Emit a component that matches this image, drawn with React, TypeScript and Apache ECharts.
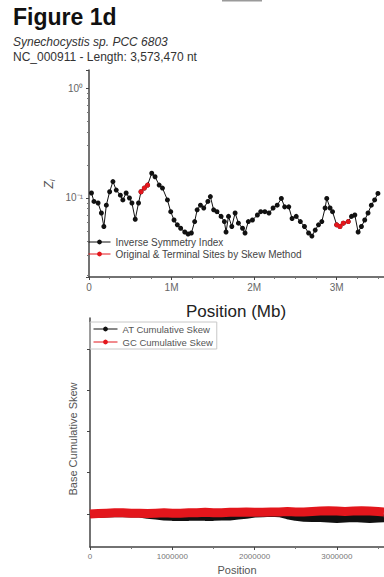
import React, { useEffect, useRef } from "react";
import * as echarts from "echarts";

const FONT = "'Liberation Sans', Arial, Helvetica, sans-serif";

// ---- Top panel: inverse symmetry index (Zi) along the genome (Mb) ----
const ziPosMb = [
  0.03, 0.06, 0.11, 0.15, 0.18, 0.21, 0.25, 0.29, 0.33, 0.38,
  0.41, 0.45, 0.49, 0.52, 0.56, 0.60, 0.63, 0.67, 0.71, 0.76,
  0.80, 0.85, 0.89, 0.95, 0.99, 1.03, 1.07, 1.11, 1.16, 1.20,
  1.24, 1.28, 1.31, 1.35, 1.39, 1.44, 1.47, 1.51, 1.55, 1.60,
  1.64, 1.66, 1.69, 1.73, 1.77, 1.81, 1.86, 1.89, 1.93, 1.98,
  2.04, 2.08, 2.13, 2.18, 2.23, 2.28, 2.33, 2.37, 2.42, 2.46,
  2.51, 2.56, 2.61, 2.66, 2.70, 2.74, 2.78, 2.82, 2.86, 2.88,
  2.92, 2.95, 3.00, 3.04, 3.08, 3.14, 3.18, 3.22, 3.26, 3.30,
  3.34, 3.38, 3.42, 3.46, 3.50,
];
const ziValues = [
  0.111, 0.093, 0.090, 0.073, 0.055, 0.086, 0.114, 0.141, 0.118, 0.106,
  0.096, 0.111, 0.100, 0.090, 0.064, 0.090, 0.114, 0.123, 0.131, 0.168,
  0.156, 0.131, 0.123, 0.096, 0.075, 0.063, 0.057, 0.053, 0.049, 0.047,
  0.048, 0.061, 0.078, 0.086, 0.081, 0.093, 0.103, 0.078, 0.075, 0.068,
  0.061, 0.049, 0.068, 0.055, 0.073, 0.059, 0.053, 0.048, 0.061, 0.063,
  0.070, 0.075, 0.075, 0.073, 0.081, 0.086, 0.099, 0.083, 0.083, 0.065,
  0.068, 0.061, 0.055, 0.048, 0.045, 0.051, 0.057, 0.061, 0.081, 0.099,
  0.081, 0.075, 0.057, 0.055, 0.059, 0.061, 0.068, 0.070, 0.049, 0.055,
  0.063, 0.073, 0.086, 0.096, 0.110,
];
// origin / terminus sites found by the skew method (red)
const originPosMb = [0.63, 0.67, 0.71];
const originZi = [0.114, 0.123, 0.131];
const terminusPosMb = [3.0, 3.04, 3.08, 3.14];
const terminusZi = [0.057, 0.055, 0.059, 0.061];

const genomeLengthMb = 3.57347;
const genomeLength = 3573470;
const topXTickLabels = ["0", "1M", "2M", "3M"];

// ---- Bottom panel: cumulative skews ----
const skewPos = [
  0, 100000, 200000, 300000, 400000, 500000, 600000, 700000, 800000, 900000,
  1000000, 1100000, 1200000, 1300000, 1400000, 1500000, 1600000, 1700000, 1800000, 1900000,
  2000000, 2100000, 2200000, 2300000, 2400000, 2500000, 2600000, 2700000, 2800000, 2900000,
  3000000, 3100000, 3200000, 3300000, 3400000, 3500000, 3573470,
];
const atSkew = [
  0.0, 0.0, 0.01, 0.02, 0.02, 0.01, 0.01, -0.02, -0.04, -0.06,
  -0.07, -0.07, -0.07, -0.06, -0.07, -0.07, -0.06, -0.06, -0.04, -0.02,
  0.01, 0.02, 0.03, 0.02, -0.03, -0.07, -0.09, -0.1, -0.1, -0.11,
  -0.12, -0.11, -0.1, -0.11, -0.12, -0.11, -0.1,
];
const gcSkew = [
  0.0, 0.01, 0.02, 0.03, 0.03, 0.02, 0.02, 0.01, 0.02, 0.03,
  0.02, 0.02, 0.03, 0.03, 0.04, 0.03, 0.03, 0.04, 0.04, 0.05,
  0.04, 0.04, 0.05, 0.05, 0.06, 0.05, 0.05, 0.06, 0.07, 0.08,
  0.07, 0.06, 0.07, 0.08, 0.07, 0.06, 0.05,
];
const skewTickValues = [0, 1, 2, 3, 4];

const SUP: Record<string, string> = { "-": "⁻", "0": "⁰", "1": "¹", "2": "²", "3": "³" };
const pow10Label = (v: number) => {
  const l = Math.log10(v);
  const e = Math.round(l);
  if (Math.abs(l - e) > 0.01) return "";
  return "10" + String(e).split("").map((c) => SUP[c] ?? c).join("");
};

const RED = "#e3161c";
const BLACK = "#111";
const AXIS = "#444";
const TEXT = "#444";

export default function App() {
  const ref = useRef<HTMLDivElement>(null);
  useEffect(() => {
    if (!ref.current) return;
    const chart = echarts.init(ref.current, undefined, { renderer: "svg" });
    const option: any = {
      animation: false,
      backgroundColor: "#fff",
      textStyle: { fontFamily: FONT },
      grid: [
        { left: 89, top: 70, height: 207, right: -4 },
        { left: 90, top: 318, height: 229, right: -4 },
      ],
      xAxis: [
        {
          gridIndex: 0,
          type: "value",
          min: 0,
          max: genomeLengthMb,
          interval: 1,
          axisLine: { show: true, onZero: false, lineStyle: { color: AXIS, width: 1.5 } },
          axisTick: { show: true, length: 3, lineStyle: { color: AXIS } },
          minorTick: { show: true, splitNumber: 4, length: 2, lineStyle: { color: "#777" } },
          splitLine: { show: false },
          axisLabel: {
            formatter: (v: number) => topXTickLabels[Math.round(v)] ?? "",
            showMaxLabel: false,
            fontSize: 10,
            color: "#666",
            margin: 5,
            fontFamily: FONT,
          },
        },
        {
          gridIndex: 1,
          type: "value",
          min: 0,
          max: genomeLength,
          interval: 1000000,
          axisLine: { show: true, onZero: false, lineStyle: { color: AXIS, width: 1.5 } },
          axisTick: { show: true, length: 3, lineStyle: { color: AXIS } },
          minorTick: { show: true, splitNumber: 2, length: 2, lineStyle: { color: "#777" } },
          splitLine: { show: false },
          axisLabel: {
            formatter: (v: number) => String(v),
            showMaxLabel: false,
            fontSize: 8,
            color: "#777",
            margin: 5,
            fontFamily: FONT,
          },
        },
      ],
      yAxis: [
        {
          gridIndex: 0,
          type: "log",
          logBase: 10,
          min: 0.0191,
          max: 1.46,
          axisLine: { show: true, lineStyle: { color: AXIS, width: 1.5 } },
          axisTick: { show: true, length: 3, lineStyle: { color: AXIS } },
          minorTick: { show: true, splitNumber: 9, length: 2, lineStyle: { color: "#777" } },
          splitLine: { show: false },
          axisLabel: {
            formatter: pow10Label,
            showMinLabel: false,
            showMaxLabel: false,
            fontSize: 10,
            color: "#666",
            margin: 6,
            fontFamily: FONT,
          },
        },
        {
          gridIndex: 1,
          type: "value",
          min: -0.8,
          max: 4.75,
          axisLine: { show: true, onZero: false, lineStyle: { color: AXIS, width: 1.5 } },
          axisTick: { show: true, length: 3, customValues: skewTickValues, lineStyle: { color: AXIS } },
          splitLine: { show: false },
          axisLabel: { show: false },
        },
      ],
      legend: [
        {
          data: ["Inverse Symmetry Index", "Original & Terminal Sites by Skew Method"],
          left: 88,
          top: 237,
          orient: "vertical",
          padding: 0,
          itemGap: 2,
          itemWidth: 22,
          itemHeight: 6,
          lineStyle: { width: 1 },
          textStyle: { fontSize: 10, color: TEXT, fontFamily: FONT },
        },
        {
          data: ["AT Cumulative Skew", "GC Cumulative Skew"],
          left: 90,
          top: 322,
          orient: "vertical",
          padding: [2, 4, 2, 3],
          borderColor: "#c8c8c8",
          borderWidth: 1,
          itemGap: 3,
          itemWidth: 24,
          itemHeight: 6,
          lineStyle: { width: 1 },
          textStyle: { fontSize: 9.5, color: "#555", fontFamily: FONT },
        },
      ],
      series: [
        {
          name: "Inverse Symmetry Index",
          type: "line",
          xAxisIndex: 0,
          yAxisIndex: 0,
          data: ziPosMb.map((x, i) => [x, ziValues[i]]),
          symbol: "circle",
          symbolSize: 5,
          itemStyle: { color: BLACK },
          lineStyle: { color: BLACK, width: 1 },
        },
        {
          name: "Original & Terminal Sites by Skew Method",
          type: "line",
          xAxisIndex: 0,
          yAxisIndex: 0,
          data: originPosMb.map((x, i) => [x, originZi[i]]),
          symbol: "circle",
          symbolSize: 5,
          itemStyle: { color: RED },
          lineStyle: { color: RED, width: 1.5 },
        },
        {
          name: "Original & Terminal Sites by Skew Method",
          type: "line",
          xAxisIndex: 0,
          yAxisIndex: 0,
          data: terminusPosMb.map((x, i) => [x, terminusZi[i]]),
          symbol: "circle",
          symbolSize: 5,
          itemStyle: { color: RED },
          lineStyle: { color: RED, width: 1.5 },
        },
        {
          name: "AT Cumulative Skew",
          type: "line",
          xAxisIndex: 1,
          yAxisIndex: 1,
          data: skewPos.map((x, i) => [x, atSkew[i]]),
          symbol: "circle",
          symbolSize: 6,
          showSymbol: false,
          itemStyle: { color: BLACK },
          lineStyle: { color: BLACK, width: 8 },
        },
        {
          name: "GC Cumulative Skew",
          type: "line",
          xAxisIndex: 1,
          yAxisIndex: 1,
          data: skewPos.map((x, i) => [x, gcSkew[i]]),
          symbol: "circle",
          symbolSize: 6,
          showSymbol: false,
          itemStyle: { color: RED },
          lineStyle: { color: RED, width: 9 },
        },
      ],
      graphic: [
        { type: "rect", left: 222, top: 0, shape: { width: 40, height: 1.5 }, style: { fill: "#9a9a9a" } },
        {
          type: "text",
          left: 13,
          top: 5,
          style: { text: "Figure 1d", fill: "#111", font: `bold 23px ${FONT}` },
        },
        {
          type: "text",
          left: 13,
          top: 36,
          style: { text: "Synechocystis sp. PCC 6803", fill: "#333", font: `italic 12px ${FONT}` },
        },
        {
          type: "text",
          left: 13,
          top: 51,
          style: { text: "NC_000911 - Length: 3,573,470 nt", fill: "#333", font: `12px ${FONT}` },
        },
        {
          type: "text",
          x: 49,
          y: 184,
          rotation: Math.PI / 2,
          style: {
            text: "{z|Z}{i|i}",
            align: "center",
            verticalAlign: "middle",
            fill: "#555",
            rich: {
              z: { fontSize: 12, fontStyle: "italic", fontFamily: FONT, fill: "#555" },
              i: { fontSize: 8, fontStyle: "italic", fontFamily: FONT, fill: "#555", padding: [6, 0, 0, 0] },
            },
          },
        },
        {
          type: "text",
          x: 236,
          y: 311,
          style: {
            text: "Position (Mb)",
            align: "center",
            verticalAlign: "middle",
            fill: "#222",
            font: `17px ${FONT}`,
          },
        },
        {
          type: "text",
          x: 73,
          y: 439,
          rotation: Math.PI / 2,
          style: {
            text: "Base Cumulative Skew",
            align: "center",
            verticalAlign: "middle",
            fill: "#555",
            font: `11px ${FONT}`,
          },
        },
        {
          type: "text",
          x: 237,
          y: 570,
          style: {
            text: "Position",
            align: "center",
            verticalAlign: "middle",
            fill: "#555",
            font: `11px ${FONT}`,
          },
        },
      ],
    };
    chart.setOption(option);
    return () => chart.dispose();
  }, []);
  return (
    <div
      ref={ref}
      style={{ position: "fixed", left: 0, top: 0, width: 384, height: 577, background: "#fff" }}
    />
  );
}
